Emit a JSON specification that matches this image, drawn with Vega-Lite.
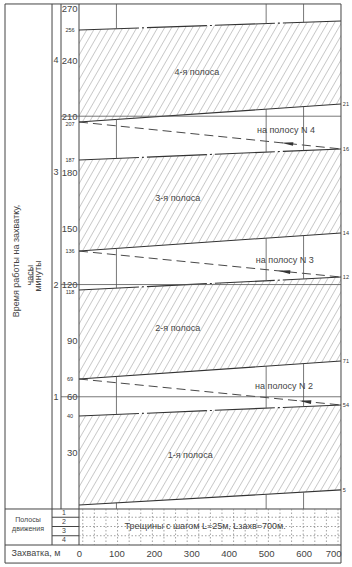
{
  "$schema": "https://vega.github.io/schema/vega-lite/v6.json",
  "width": 352,
  "height": 567,
  "autosize": {"type": "none"},
  "padding": 0,
  "background": "white",
  "config": {"view": {"stroke": null}, "font": "Liberation Sans"},
  "datasets": {
    "bands": [
      {"band": 4, "m": 0, "t": 256.1, "t2": 206.9},
      {"band": 4, "m": 700, "t": 260.9, "t2": 216.5},
      {"band": 3, "m": 0, "t": 186.6, "t2": 137.9},
      {"band": 3, "m": 700, "t": 192.5, "t2": 147.6},
      {"band": 2, "m": 0, "t": 117.1, "t2": 69.5},
      {"band": 2, "m": 700, "t": 124.0, "t2": 79.1},
      {"band": 1, "m": 0, "t": 49.7, "t2": 2.1},
      {"band": 1, "m": 700, "t": 55.6, "t2": 10.2}
    ],
    "transfers": [
      {"zone": 4, "m": 0, "t": 206.9},
      {"zone": 4, "m": 700, "t": 192.5},
      {"zone": 3, "m": 0, "t": 137.9},
      {"zone": 3, "m": 700, "t": 124.0},
      {"zone": 2, "m": 0, "t": 69.5},
      {"zone": 2, "m": 700, "t": 55.6}
    ],
    "arrows": [
      {"zone": 4, "m": 556, "t": 195.5},
      {"zone": 3, "m": 548, "t": 127.0},
      {"zone": 2, "m": 604, "t": 57.5}
    ],
    "frame": [
      {"m": -197.7, "t": 270, "m2": 700, "t2": 270},
      {"m": -197.7, "t": -28.9, "m2": 700, "t2": -28.9},
      {"m": -197.7, "t": -28.9, "m2": -197.7, "t2": 270},
      {"m": 700, "t": -28.9, "m2": 700, "t2": 270},
      {"m": -72.1, "t": -19.25, "m2": -72.1, "t2": 270},
      {"m": -48.1, "t": 0, "m2": -48.1, "t2": 270},
      {"m": 0, "t": -19.25, "m2": 0, "t2": 270},
      {"m": -197.7, "t": 0, "m2": 700, "t2": 0},
      {"m": -197.7, "t": -19.25, "m2": 700, "t2": -19.25},
      {"m": -72.1, "t": -4.41, "m2": 0, "t2": -4.41},
      {"m": -72.1, "t": -9.36, "m2": 0, "t2": -9.36},
      {"m": -72.1, "t": -14.3, "m2": 0, "t2": -14.3}
    ],
    "thin": [
      {"m": -48.1, "t": 210, "m2": 700, "t2": 210},
      {"m": -48.1, "t": 120, "m2": 700, "t2": 120},
      {"m": -48.1, "t": 60, "m2": 700, "t2": 60},
      {"m": 100, "t": 270, "m2": 100, "t2": 256.8},
      {"m": 100, "t": 208.4, "m2": 100, "t2": 187.4},
      {"m": 100, "t": 139.3, "m2": 100, "t2": 118.1},
      {"m": 100, "t": 70.9, "m2": 100, "t2": 50.5},
      {"m": 100, "t": 3.3, "m2": 100, "t2": 0},
      {"m": 500, "t": 270, "m2": 500, "t2": 259.5},
      {"m": 500, "t": 213.8, "m2": 500, "t2": 190.8},
      {"m": 500, "t": 144.8, "m2": 500, "t2": 122.0},
      {"m": 500, "t": 76.4, "m2": 500, "t2": 53.9},
      {"m": 500, "t": 7.9, "m2": 500, "t2": 0},
      {"m": 600, "t": 270, "m2": 600, "t2": 260.2},
      {"m": 600, "t": 215.1, "m2": 600, "t2": 191.7},
      {"m": 600, "t": 146.2, "m2": 600, "t2": 123.0},
      {"m": 600, "t": 77.7, "m2": 600, "t2": 54.8},
      {"m": 600, "t": 9.0, "m2": 600, "t2": 0},
      {"m": -123, "t": 129, "m2": -123, "t2": 121}
    ],
    "dots": [
      {"m": 0, "t": -4.41, "m2": 700, "t2": -4.41},
      {"m": 0, "t": -9.36, "m2": 700, "t2": -9.36},
      {"m": 0, "t": -14.3, "m2": 700, "t2": -14.3},
      {"m": 10, "t": 0, "m2": 10, "t2": -19.25},
      {"m": 41, "t": 0, "m2": 41, "t2": -19.25},
      {"m": 72, "t": 0, "m2": 72, "t2": -19.25},
      {"m": 103, "t": 0, "m2": 103, "t2": -19.25},
      {"m": 134, "t": 0, "m2": 134, "t2": -19.25},
      {"m": 165, "t": 0, "m2": 165, "t2": -19.25},
      {"m": 196, "t": 0, "m2": 196, "t2": -19.25},
      {"m": 227, "t": 0, "m2": 227, "t2": -19.25},
      {"m": 258, "t": 0, "m2": 258, "t2": -19.25},
      {"m": 289, "t": 0, "m2": 289, "t2": -19.25},
      {"m": 320, "t": 0, "m2": 320, "t2": -19.25},
      {"m": 351, "t": 0, "m2": 351, "t2": -19.25},
      {"m": 382, "t": 0, "m2": 382, "t2": -19.25},
      {"m": 413, "t": 0, "m2": 413, "t2": -19.25},
      {"m": 444, "t": 0, "m2": 444, "t2": -19.25},
      {"m": 475, "t": 0, "m2": 475, "t2": -19.25},
      {"m": 506, "t": 0, "m2": 506, "t2": -19.25},
      {"m": 537, "t": 0, "m2": 537, "t2": -19.25},
      {"m": 568, "t": 0, "m2": 568, "t2": -19.25},
      {"m": 599, "t": 0, "m2": 599, "t2": -19.25},
      {"m": 630, "t": 0, "m2": 630, "t2": -19.25},
      {"m": 661, "t": 0, "m2": 661, "t2": -19.25},
      {"m": 692, "t": 0, "m2": 692, "t2": -19.25}
    ],
    "labels": [
      {"m": 315, "t": 233.6, "text": "4-я полоса"},
      {"m": 553, "t": 202.6, "text": "на полосу N 4"},
      {"m": 264, "t": 166.3, "text": "3-я полоса"},
      {"m": 550, "t": 133.1, "text": "на полосу N 3"},
      {"m": 264, "t": 96.8, "text": "2-я полоса"},
      {"m": 548, "t": 65.8, "text": "на полосу N 2"},
      {"m": 297, "t": 28.9, "text": "1-я полоса"},
      {"m": 337, "t": -9.1, "text": "Трещины с шагом L=25м, Lзахв=700м."},
      {"m": -115, "t": -23.5, "text": "Захватка,  м"}
    ],
    "leftMarks": [
      {"m": -24, "t": 256.1, "text": "256"},
      {"m": -24, "t": 205.8, "text": "207"},
      {"m": -24, "t": 186.6, "text": "187"},
      {"m": -24, "t": 137.9, "text": "136"},
      {"m": -24, "t": 116.0, "text": "118"},
      {"m": -24, "t": 69.5, "text": "69"},
      {"m": -24, "t": 49.7, "text": "40"}
    ],
    "rightMarks": [
      {"m": 705, "t": 216.5, "text": "21"},
      {"m": 705, "t": 192.5, "text": "16"},
      {"m": 705, "t": 147.6, "text": "14"},
      {"m": 705, "t": 124.0, "text": "12"},
      {"m": 705, "t": 79.1, "text": "71"},
      {"m": 705, "t": 55.6, "text": "54"},
      {"m": 705, "t": 10.2, "text": "5"}
    ],
    "bandNumbers": [
      {"m": -61.4, "t": 240, "text": "4"},
      {"m": -61.4, "t": 180, "text": "3"},
      {"m": -61.4, "t": 120, "text": "2"},
      {"m": -61.4, "t": 60, "text": "1"}
    ],
    "titles": [
      {"m": -168, "t": 132.6, "text": "Время работы на захватку,"},
      {"m": -131, "t": 125, "text": "часы"},
      {"m": -110, "t": 124.6, "text": "минуты"}
    ],
    "tableTexts": [
      {"m": -136.3, "t": -6.1, "text": "Полосы"},
      {"m": -136.3, "t": -10.6, "text": "движения"},
      {"m": -40, "t": -1.92, "text": "1"},
      {"m": -40, "t": -6.9, "text": "2"},
      {"m": -40, "t": -11.8, "text": "3"},
      {"m": -40, "t": -16.8, "text": "4"}
    ]
  },
  "encoding": {
    "x": {
      "field": "m", "type": "quantitative",
      "scale": {"domain": [-211.1, 729.4], "nice": false, "zero": false},
      "axis": {
        "values": [0, 100, 200, 300, 400, 500, 600, 700],
        "orient": "bottom", "offset": -14, "domain": false, "ticks": false, "tickSize": 0,
        "grid": false, "title": null, "labelPadding": 0, "labelBaseline": "middle",
        "labelFontSize": 9.5, "labelColor": "#444", "labelFlush": false, "labelOverlap": false,
        "labelDx": -3,
        "labelAlign": {"condition": {"test": "datum.value === 700", "value": "right"}, "value": "center"}
      }
    },
    "y": {
      "field": "t", "type": "quantitative",
      "scale": {"domain": [-31.01, 272.13], "nice": false, "zero": false},
      "axis": {
        "values": [30, 60, 90, 120, 150, 180, 210, 240, 270],
        "orient": "left", "offset": -78, "domain": false, "ticks": false, "tickSize": 0,
        "grid": false, "title": null, "labelPadding": 1,
        "labelBaseline": {"condition": {"test": "datum.value === 270", "value": "top"}, "value": "middle"},
        "labelFontSize": 9.5, "labelColor": "#444", "labelFlush": false, "labelOverlap": false
      }
    }
  },
  "layer": [
    {
      "data": {"name": "bands"},
      "mark": {
        "type": "area", "opacity": 1, "stroke": null,
        "fill": {
          "gradient": "linear", "x1": 0, "y1": 0, "x2": 1.165, "y2": 0.259,
          "stops": [
            {"offset": 0, "color": "#ffffff"}, {"offset": 0.0152, "color": "#ffffff"}, {"offset": 0.0185, "color": "#c8c8c8"},
            {"offset": 0.0217, "color": "#ffffff"}, {"offset": 0.0370, "color": "#ffffff"}, {"offset": 0.0402, "color": "#c8c8c8"},
            {"offset": 0.0435, "color": "#ffffff"}, {"offset": 0.0587, "color": "#ffffff"}, {"offset": 0.0620, "color": "#c8c8c8"},
            {"offset": 0.0652, "color": "#ffffff"}, {"offset": 0.0804, "color": "#ffffff"}, {"offset": 0.0837, "color": "#c8c8c8"},
            {"offset": 0.0870, "color": "#ffffff"}, {"offset": 0.1022, "color": "#ffffff"}, {"offset": 0.1054, "color": "#c8c8c8"},
            {"offset": 0.1087, "color": "#ffffff"}, {"offset": 0.1239, "color": "#ffffff"}, {"offset": 0.1272, "color": "#c8c8c8"},
            {"offset": 0.1304, "color": "#ffffff"}, {"offset": 0.1457, "color": "#ffffff"}, {"offset": 0.1489, "color": "#c8c8c8"},
            {"offset": 0.1522, "color": "#ffffff"}, {"offset": 0.1674, "color": "#ffffff"}, {"offset": 0.1707, "color": "#c8c8c8"},
            {"offset": 0.1739, "color": "#ffffff"}, {"offset": 0.1891, "color": "#ffffff"}, {"offset": 0.1924, "color": "#c8c8c8"},
            {"offset": 0.1957, "color": "#ffffff"}, {"offset": 0.2109, "color": "#ffffff"}, {"offset": 0.2141, "color": "#c8c8c8"},
            {"offset": 0.2174, "color": "#ffffff"}, {"offset": 0.2326, "color": "#ffffff"}, {"offset": 0.2359, "color": "#c8c8c8"},
            {"offset": 0.2391, "color": "#ffffff"}, {"offset": 0.2543, "color": "#ffffff"}, {"offset": 0.2576, "color": "#c8c8c8"},
            {"offset": 0.2609, "color": "#ffffff"}, {"offset": 0.2761, "color": "#ffffff"}, {"offset": 0.2793, "color": "#c8c8c8"},
            {"offset": 0.2826, "color": "#ffffff"}, {"offset": 0.2978, "color": "#ffffff"}, {"offset": 0.3011, "color": "#c8c8c8"},
            {"offset": 0.3043, "color": "#ffffff"}, {"offset": 0.3196, "color": "#ffffff"}, {"offset": 0.3228, "color": "#c8c8c8"},
            {"offset": 0.3261, "color": "#ffffff"}, {"offset": 0.3413, "color": "#ffffff"}, {"offset": 0.3446, "color": "#c8c8c8"},
            {"offset": 0.3478, "color": "#ffffff"}, {"offset": 0.3630, "color": "#ffffff"}, {"offset": 0.3663, "color": "#c8c8c8"},
            {"offset": 0.3696, "color": "#ffffff"}, {"offset": 0.3848, "color": "#ffffff"}, {"offset": 0.3880, "color": "#c8c8c8"},
            {"offset": 0.3913, "color": "#ffffff"}, {"offset": 0.4065, "color": "#ffffff"}, {"offset": 0.4098, "color": "#c8c8c8"},
            {"offset": 0.4130, "color": "#ffffff"}, {"offset": 0.4283, "color": "#ffffff"}, {"offset": 0.4315, "color": "#c8c8c8"},
            {"offset": 0.4348, "color": "#ffffff"}, {"offset": 0.4500, "color": "#ffffff"}, {"offset": 0.4533, "color": "#c8c8c8"},
            {"offset": 0.4565, "color": "#ffffff"}, {"offset": 0.4717, "color": "#ffffff"}, {"offset": 0.4750, "color": "#c8c8c8"},
            {"offset": 0.4783, "color": "#ffffff"}, {"offset": 0.4935, "color": "#ffffff"}, {"offset": 0.4967, "color": "#c8c8c8"},
            {"offset": 0.5000, "color": "#ffffff"}, {"offset": 0.5152, "color": "#ffffff"}, {"offset": 0.5185, "color": "#c8c8c8"},
            {"offset": 0.5217, "color": "#ffffff"}, {"offset": 0.5370, "color": "#ffffff"}, {"offset": 0.5402, "color": "#c8c8c8"},
            {"offset": 0.5435, "color": "#ffffff"}, {"offset": 0.5587, "color": "#ffffff"}, {"offset": 0.5620, "color": "#c8c8c8"},
            {"offset": 0.5652, "color": "#ffffff"}, {"offset": 0.5804, "color": "#ffffff"}, {"offset": 0.5837, "color": "#c8c8c8"},
            {"offset": 0.5870, "color": "#ffffff"}, {"offset": 0.6022, "color": "#ffffff"}, {"offset": 0.6054, "color": "#c8c8c8"},
            {"offset": 0.6087, "color": "#ffffff"}, {"offset": 0.6239, "color": "#ffffff"}, {"offset": 0.6272, "color": "#c8c8c8"},
            {"offset": 0.6304, "color": "#ffffff"}, {"offset": 0.6457, "color": "#ffffff"}, {"offset": 0.6489, "color": "#c8c8c8"},
            {"offset": 0.6522, "color": "#ffffff"}, {"offset": 0.6674, "color": "#ffffff"}, {"offset": 0.6707, "color": "#c8c8c8"},
            {"offset": 0.6739, "color": "#ffffff"}, {"offset": 0.6891, "color": "#ffffff"}, {"offset": 0.6924, "color": "#c8c8c8"},
            {"offset": 0.6957, "color": "#ffffff"}, {"offset": 0.7109, "color": "#ffffff"}, {"offset": 0.7141, "color": "#c8c8c8"},
            {"offset": 0.7174, "color": "#ffffff"}, {"offset": 0.7326, "color": "#ffffff"}, {"offset": 0.7359, "color": "#c8c8c8"},
            {"offset": 0.7391, "color": "#ffffff"}, {"offset": 0.7543, "color": "#ffffff"}, {"offset": 0.7576, "color": "#c8c8c8"},
            {"offset": 0.7609, "color": "#ffffff"}, {"offset": 0.7761, "color": "#ffffff"}, {"offset": 0.7793, "color": "#c8c8c8"},
            {"offset": 0.7826, "color": "#ffffff"}, {"offset": 0.7978, "color": "#ffffff"}, {"offset": 0.8011, "color": "#c8c8c8"},
            {"offset": 0.8043, "color": "#ffffff"}, {"offset": 0.8196, "color": "#ffffff"}, {"offset": 0.8228, "color": "#c8c8c8"},
            {"offset": 0.8261, "color": "#ffffff"}, {"offset": 0.8413, "color": "#ffffff"}, {"offset": 0.8446, "color": "#c8c8c8"},
            {"offset": 0.8478, "color": "#ffffff"}, {"offset": 0.8630, "color": "#ffffff"}, {"offset": 0.8663, "color": "#c8c8c8"},
            {"offset": 0.8696, "color": "#ffffff"}, {"offset": 0.8848, "color": "#ffffff"}, {"offset": 0.8880, "color": "#c8c8c8"},
            {"offset": 0.8913, "color": "#ffffff"}, {"offset": 0.9065, "color": "#ffffff"}, {"offset": 0.9098, "color": "#c8c8c8"},
            {"offset": 0.9130, "color": "#ffffff"}, {"offset": 0.9283, "color": "#ffffff"}, {"offset": 0.9315, "color": "#c8c8c8"},
            {"offset": 0.9348, "color": "#ffffff"}, {"offset": 0.9500, "color": "#ffffff"}, {"offset": 0.9533, "color": "#c8c8c8"},
            {"offset": 0.9565, "color": "#ffffff"}, {"offset": 0.9717, "color": "#ffffff"}, {"offset": 0.9750, "color": "#c8c8c8"},
            {"offset": 0.9783, "color": "#ffffff"}, {"offset": 0.9935, "color": "#ffffff"}, {"offset": 0.9967, "color": "#c8c8c8"},
            {"offset": 1, "color": "#ffffff"}
          ]
        }
      },
      "encoding": {"y2": {"field": "t2"}, "detail": {"field": "band"}}
    },
    {
      "data": {"name": "bands"},
      "mark": {"type": "line", "color": "#333", "strokeWidth": 1.1, "strokeDash": [60, 3, 2, 3]},
      "encoding": {"detail": {"field": "band"}}
    },
    {
      "data": {"name": "bands"},
      "mark": {"type": "line", "color": "#333", "strokeWidth": 1.1},
      "encoding": {
        "y": {
          "field": "t2", "type": "quantitative",
          "scale": {"domain": [-31.01, 272.13], "nice": false, "zero": false},
          "axis": {
            "values": [30, 60, 90, 120, 150, 180, 210, 240, 270],
            "orient": "left", "offset": -78, "domain": false, "ticks": false, "tickSize": 0,
            "grid": false, "title": null, "labelPadding": 1,
            "labelBaseline": {"condition": {"test": "datum.value === 270", "value": "top"}, "value": "middle"},
            "labelFontSize": 9.5, "labelColor": "#444", "labelFlush": false, "labelOverlap": false
          }
        },
        "detail": {"field": "band"}
      }
    },
    {
      "data": {"name": "transfers"},
      "mark": {"type": "line", "color": "#333", "strokeWidth": 0.9, "strokeDash": [9, 5]},
      "encoding": {"detail": {"field": "zone"}}
    },
    {
      "data": {"name": "frame"},
      "mark": {"type": "rule", "color": "#444", "strokeWidth": 1},
      "encoding": {"x2": {"field": "m2"}, "y2": {"field": "t2"}}
    },
    {
      "data": {"name": "thin"},
      "mark": {"type": "rule", "color": "#555", "strokeWidth": 0.8},
      "encoding": {"x2": {"field": "m2"}, "y2": {"field": "t2"}}
    },
    {
      "data": {"name": "dots"},
      "mark": {"type": "rule", "color": "#777", "strokeWidth": 0.7, "strokeDash": [1.5, 2]},
      "encoding": {"x2": {"field": "m2"}, "y2": {"field": "t2"}}
    },
    {
      "data": {"name": "arrows"},
      "mark": {"type": "point", "shape": "M-1,0L1,-0.3L1,0.3Z", "filled": true, "color": "#333", "opacity": 1, "size": 150, "angle": 6}
    },
    {
      "data": {"name": "labels"},
      "mark": {"type": "text", "font": "Liberation Sans", "fontSize": 9, "color": "#444", "align": "center", "baseline": "middle"},
      "encoding": {"text": {"field": "text"}}
    },
    {
      "data": {"name": "leftMarks"},
      "mark": {"type": "text", "font": "Liberation Sans", "fontSize": 5.5, "color": "#333", "align": "center", "baseline": "middle"},
      "encoding": {"text": {"field": "text"}}
    },
    {
      "data": {"name": "rightMarks"},
      "mark": {"type": "text", "font": "Liberation Sans", "fontSize": 5.5, "color": "#333", "align": "left", "baseline": "middle"},
      "encoding": {"text": {"field": "text"}}
    },
    {
      "data": {"name": "bandNumbers"},
      "mark": {"type": "text", "font": "Liberation Sans", "fontSize": 9, "color": "#444", "align": "center", "baseline": "middle"},
      "encoding": {"text": {"field": "text"}}
    },
    {
      "data": {"name": "titles"},
      "mark": {"type": "text", "font": "Liberation Sans", "fontSize": 9, "color": "#444", "align": "center", "baseline": "middle", "angle": 270},
      "encoding": {"text": {"field": "text"}}
    },
    {
      "data": {"name": "tableTexts"},
      "mark": {"type": "text", "font": "Liberation Sans", "fontSize": 7, "color": "#444", "align": "center", "baseline": "middle"},
      "encoding": {"text": {"field": "text"}}
    }
  ]
}
